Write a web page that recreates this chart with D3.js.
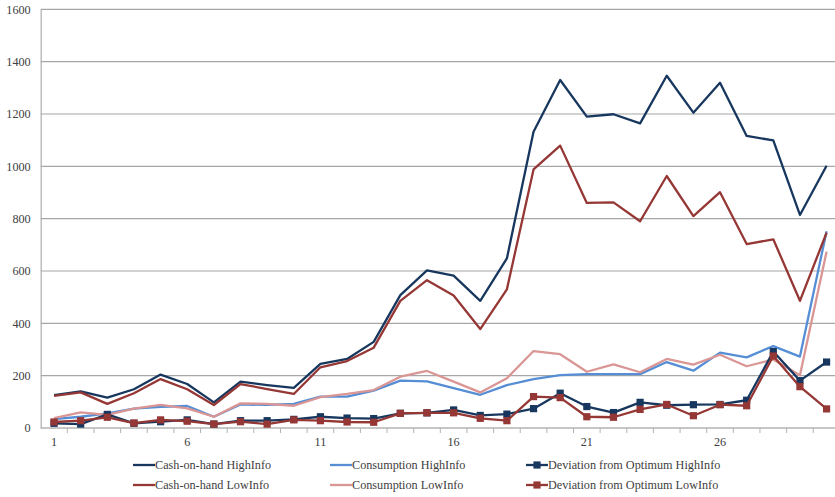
<!DOCTYPE html>
<html>
<head>
<meta charset="utf-8">
<script src="https://cdn.jsdelivr.net/npm/d3@7"></script>
<style>
  body { margin: 0; background: #ffffff; }
</style>
</head>
<body>
<div id="chart"></div>
<script>
// Periods 1..30
const periods = d3.range(1, 31);
const yTicks = [0, 200, 400, 600, 800, 1000, 1200, 1400, 1600];
const xLabels = [1, 6, 11, 16, 21, 26];

const cashHigh = [126, 140, 116, 148, 204, 168, 98, 177, 164, 153, 245, 264, 329, 508, 602, 582, 486, 648, 1132, 1330,
    1190, 1199, 1164, 1346, 1205, 1319, 1116, 1099, 814, 1002];
const consHigh = [34, 43, 56, 74, 81, 84, 43, 90, 88, 92, 120, 120, 143, 181, 178, 152, 127, 164, 187, 202,
    206, 206, 206, 252, 219, 288, 270, 313, 273, 752];
const devHigh = [18, 15, 52, 18, 24, 31, 15, 28, 28, 33, 43, 38, 36, 56, 58, 69, 48, 53, 74, 133,
    82, 59, 98, 87, 89, 90, 106, 292, 181, 252];
const cashLow = [123, 136, 92, 133, 187, 148, 88, 168, 149, 130, 232, 256, 307, 486, 565, 506, 378, 530, 988, 1079,
    860, 862, 790, 963, 810, 901, 703, 721, 486, 746];
const consLow = [38, 60, 50, 74, 88, 75, 43, 94, 92, 85, 118, 130, 145, 196, 218, 177, 136, 190, 294, 282,
    215, 243, 213, 264, 242, 280, 236, 262, 202, 674];
const devLow = [23, 28, 41, 19, 31, 26, 15, 24, 15, 31, 28, 23, 22, 56, 58, 58, 37, 28, 120, 116,
    43, 41, 71, 90, 47, 89, 85, 275, 158, 73];

// legend order: row by row
const series = [
    { name: "Cash-on-hand HighInfo", values: cashHigh, color: "#17375e", marker: false },
    { name: "Consumption HighInfo", values: consHigh, color: "#558ed5", marker: false },
    { name: "Deviation from Optimum HighInfo", values: devHigh, color: "#17375e", marker: true },
    { name: "Cash-on-hand LowInfo", values: cashLow, color: "#953735", marker: false },
    { name: "Consumption LowInfo", values: consLow, color: "#d99694", marker: false },
    { name: "Deviation from Optimum LowInfo", values: devLow, color: "#953735", marker: true }
];

const FONT = "'Liberation Serif', 'Times New Roman', serif";
const FONT_SIZE = 12.2;
const width = 835, height = 497;
const margin = { top: 9.3, bottom: 69, left: 40.7 };
const step = 26.64;

const svg = d3.select("#chart").append("svg")
    .attr("width", width)
    .attr("height", height)
    .attr("font-family", FONT);

const x = d3.scaleBand()
    .domain(periods)
    .range([margin.left, margin.left + step * periods.length])
    .padding(0);

const y = d3.scaleLinear()
    .domain([0, 1600])
    .range([height - margin.bottom, margin.top]);

const plotRight = x.range()[1];
const cx = d => x(d) + x.bandwidth() / 2;

// Grid lines
svg.append("g")
    .selectAll("line")
    .data(yTicks.slice(1))
    .join("line")
    .attr("x1", margin.left)
    .attr("x2", plotRight)
    .attr("y1", d => y(d))
    .attr("y2", d => y(d))
    .attr("stroke", "#a6a6a6")
    .attr("stroke-width", 1.2);

// Y axis
svg.append("g")
    .attr("transform", `translate(${margin.left},0)`)
    .call(d3.axisLeft(y).tickValues(yTicks).tickFormat(d3.format("d")).tickSize(0).tickPadding(10))
    .attr("font-family", FONT)
    .attr("font-size", FONT_SIZE)
    .call(g => g.select(".domain").attr("stroke", "#b3b3b3").attr("stroke-width", 1.3))
    .selectAll("text")
    .attr("fill", "#404040");

// X axis line + tick marks at category boundaries
const xAxis = svg.append("g")
    .attr("transform", `translate(0,${y(0)})`);

xAxis.append("line")
    .attr("x1", margin.left)
    .attr("x2", plotRight)
    .attr("stroke", "#b3b3b3")
    .attr("stroke-width", 1.3);

xAxis.selectAll(".tk")
    .data(periods)
    .join("line")
    .attr("class", "tk")
    .attr("x1", d => x(d) + x.bandwidth())
    .attr("x2", d => x(d) + x.bandwidth())
    .attr("y1", 0)
    .attr("y2", 5)
    .attr("stroke", "#b3b3b3")
    .attr("stroke-width", 1);

xAxis.selectAll(".lbl")
    .data(xLabels)
    .join("text")
    .attr("class", "lbl")
    .attr("x", d => cx(d))
    .attr("y", 18)
    .attr("text-anchor", "middle")
    .attr("font-size", FONT_SIZE)
    .attr("fill", "#404040")
    .text(d => d);

// Lines
const line = d3.line()
    .x((d, i) => cx(periods[i]))
    .y(d => y(d));

// draw in an order that keeps the dark lines on top, like the source
const drawOrder = [1, 4, 0, 3, 2, 5];
drawOrder.forEach(k => {
    const s = series[k];
    svg.append("path")
        .datum(s.values)
        .attr("fill", "none")
        .attr("stroke", s.color)
        .attr("stroke-width", 2.3)
        .attr("stroke-linejoin", "round")
        .attr("d", line);

    if (s.marker) {
        svg.append("g")
            .selectAll("rect")
            .data(s.values)
            .join("rect")
            .attr("x", (d, i) => cx(periods[i]) - 3.6)
            .attr("y", d => y(d) - 3.6)
            .attr("width", 7.2)
            .attr("height", 7.2)
            .attr("fill", s.color);
    }
});

// Legend
const legendCols = [133, 330, 526];
const legendRows = [465, 485];
const legend = svg.append("g");

series.forEach((s, i) => {
    const lx = legendCols[i % 3];
    const ly = legendRows[Math.floor(i / 3)];
    const g = legend.append("g").attr("transform", `translate(${lx},${ly})`);
    g.append("line")
        .attr("x1", 0)
        .attr("x2", 22)
        .attr("stroke", s.color)
        .attr("stroke-width", 2.3);
    if (s.marker) {
        g.append("rect")
            .attr("x", 11 - 3.6)
            .attr("y", -3.6)
            .attr("width", 7.2)
            .attr("height", 7.2)
            .attr("fill", s.color);
    }
    g.append("text")
        .attr("x", 22)
        .attr("y", 0)
        .attr("dy", "0.35em")
        .attr("font-size", FONT_SIZE)
        .attr("fill", "#404040")
        .text(s.name);
});
</script>
</body>
</html>
